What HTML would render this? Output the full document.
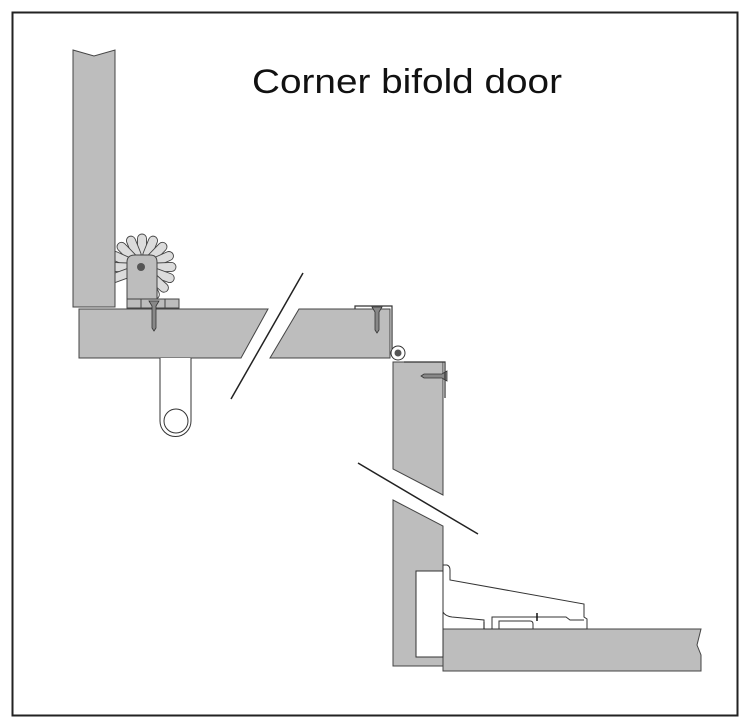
<!DOCTYPE html>
<html><head><style>body{margin:0;background:#fff}svg{display:block}</style></head><body>
<svg width="750" height="727" viewBox="0 0 750 727" xmlns="http://www.w3.org/2000/svg">
<rect x="12.5" y="12.5" width="725" height="703" fill="#fff" stroke="#222" stroke-width="2"/>
<text x="252" y="93" font-family="Liberation Sans, sans-serif" font-size="34" fill="#111" textLength="310" lengthAdjust="spacingAndGlyphs">Corner bifold door</text>
<!-- wheel -->
<g transform="translate(142,268)" fill="#dcdcdc" stroke="#444" stroke-width="0.9">
<g id="p"><rect x="-4.5" y="-34" width="9" height="24" rx="4.5"/></g>
<use href="#p" transform="rotate(22)"/><use href="#p" transform="rotate(44)"/><use href="#p" transform="rotate(66)"/><use href="#p" transform="rotate(88)"/><use href="#p" transform="rotate(110)"/><use href="#p" transform="rotate(132)"/><use href="#p" transform="rotate(154)"/><use href="#p" transform="rotate(-22)"/><use href="#p" transform="rotate(-44)"/><use href="#p" transform="rotate(-66)"/><use href="#p" transform="rotate(-88)"/><use href="#p" transform="rotate(-110)"/>
</g>
<g fill="#bdbdbd" stroke="#444" stroke-width="1">
<path d="M73,50 L94,56 L115,50 L115,307 L73,307 Z"/>
<path d="M79,309 L268,309 L241,358 L79,358 Z"/>
<path d="M299,309 L390,309 L390,358 L270,358 Z"/>
<path d="M393,362 L443,362 L443,495 L393,469 Z"/>
<path d="M393,500 L443,526 L443,666 L393,666 Z"/>
<path d="M443,629 L701,629 L697,645 L701,655 L701,671 L443,671 Z"/>
</g>
<line x1="303" y1="273" x2="231" y2="399" stroke="#222" stroke-width="1.5"/>
<line x1="358" y1="463" x2="478" y2="534" stroke="#222" stroke-width="1.5"/>
<!-- rod -->
<path d="M160,358 L160,421 A15.5,15.5 0 0 0 191,421 L191,358" fill="#fff" stroke="#333" stroke-width="1"/>
<circle cx="176" cy="421" r="12" fill="none" stroke="#333" stroke-width="1"/>
<path d="M127,262 Q127,255 135,255 L150,255 Q157,255 157,262 L157,299 L127,299 Z" fill="#bdbdbd" stroke="#444"/>
<circle cx="141" cy="267" r="4" fill="#555"/>
<rect x="127" y="299" width="52" height="9" fill="#bdbdbd" stroke="#444"/>
<line x1="141" y1="299" x2="141" y2="308" stroke="#444"/><line x1="165" y1="299" x2="165" y2="308" stroke="#444"/>
<!-- screws -->
<g fill="#888" stroke="#333" stroke-width="0.8">
<path d="M149,301 L159,301 L156,306 L156,328 L154,331 L152,328 L152,306 Z"/>
<path d="M372,307 L382,307 L379,312 L379,330 L377,333 L375,330 L375,312 Z"/>
<path d="M447,371 L447,381 L442,378 L424,378 L421,376 L424,374 L442,374 Z"/>
</g>
<!-- hinge plates -->
<path d="M355,309 L355,306 L392,306 L392,350" fill="none" stroke="#333" stroke-width="1.2"/>
<path d="M404,362 L445,362 L445,398" fill="none" stroke="#333" stroke-width="1.2"/>
<circle cx="398" cy="353" r="7" fill="#fff" stroke="#333"/>
<circle cx="398" cy="353" r="3.5" fill="#555"/>
<!-- cup hinge -->
<rect x="416" y="571" width="27" height="86" fill="#fff" stroke="#333"/>
<path d="M443,565 L447,565 Q450,566 450,570 L450,580 L584,604 L584,617 L587,619 L587,629 L484,629 L484,620 L452,617 Q445,616 443,612 Z" fill="#fff" stroke="#333"/>
<path d="M492,629 L492,617 L566,617 L570,620 L584,620" fill="none" stroke="#333"/>
<path d="M499,629 L499,621 L530,621 Q533,621 533,624 L533,629" fill="none" stroke="#333"/>
<line x1="537" y1="613" x2="537" y2="621" stroke="#111" stroke-width="1.5"/>
<line x1="484" y1="622" x2="484" y2="629" stroke="#111" stroke-width="1"/>
</svg>
</body></html>
